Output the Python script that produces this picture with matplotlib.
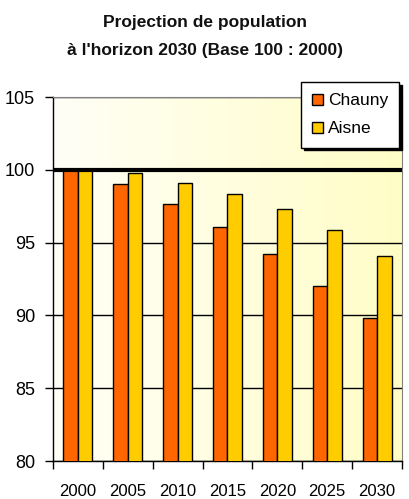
import matplotlib.pyplot as plt
import numpy as np
from matplotlib.colors import LinearSegmentedColormap

plt.rcParams['font.family'] = ['Liberation Sans', 'DejaVu Sans']

years = ['2000', '2005', '2010', '2015', '2020', '2025', '2030']
chauny = [100.0, 99.0, 97.65, 96.1, 94.2, 92.05, 89.8]
aisne = [100.0, 99.75, 99.1, 98.35, 97.3, 95.85, 94.1]

fig = plt.figure(figsize=(4.1, 4.99), dpi=100)
ax = fig.add_axes([53 / 410, 1 - 461 / 499, 349 / 410, 364 / 499])

# background gradient
cmap = LinearSegmentedColormap.from_list('bg', ['#fffff7', '#fffdc6'])
grad = np.linspace(0, 1, 256).reshape(1, -1)
ax.imshow(grad, cmap=cmap, aspect='auto', extent=(-0.5, 6.5, 80, 105), zorder=0)

x = np.arange(len(years))
w = 0.29
ax.bar(x - w / 2, chauny, w, bottom=0, color='#ff6600', edgecolor='black', linewidth=1, label='Chauny', zorder=3)
ax.bar(x + w / 2, aisne, w, bottom=0, color='#ffcc00', edgecolor='black', linewidth=1, label='Aisne', zorder=3)

ax.set_xlim(-0.5, 6.5)
ax.set_ylim(80, 105)
ax.set_yticks([80, 85, 90, 95, 100, 105])
ax.yaxis.grid(True, color='black', linewidth=1, zorder=1)
ax.axhline(100, color='black', linewidth=3, zorder=4)

ax.set_xticks(np.arange(-0.5, 7, 1))
ax.set_xticklabels([])
ax.set_xticks(x, minor=True)
ax.set_xticklabels(years, minor=True)
ax.tick_params(axis='x', which='major', length=6, width=1, direction='out')
ax.tick_params(axis='x', which='minor', length=0, pad=16.5, labelsize=12)
ax.tick_params(axis='y', length=6, width=1, direction='out', labelsize=13, pad=7)

for s in ['top', 'right']:
    ax.spines[s].set_color('#808080')
for s in ['left', 'bottom']:
    ax.spines[s].set_linewidth(1)

fig.text(0.5, 1 - 22 / 499, 'Projection de population', ha='center', va='center',
         fontsize=12.5, fontweight='bold', color='#111111')
fig.text(0.5, 1 - 50 / 499, "à l'horizon 2030 (Base 100 : 2000)", ha='center', va='center',
         fontsize=12.5, fontweight='bold', color='#111111')

leg = fig.legend(loc='upper left', bbox_to_anchor=(301 / 410, 1 - 82 / 499), fontsize=12.5,
                 frameon=True, fancybox=False, shadow={'color': 'black', 'alpha': 1},
                 edgecolor='black', framealpha=1,
                 handlelength=0.6, handleheight=0.6, handletextpad=0.3,
                 borderpad=0.65, labelspacing=0.75, borderaxespad=0)
leg.get_frame().set_linewidth(1)
leg.set_zorder(10)

fig.savefig('out.png', dpi=100)
